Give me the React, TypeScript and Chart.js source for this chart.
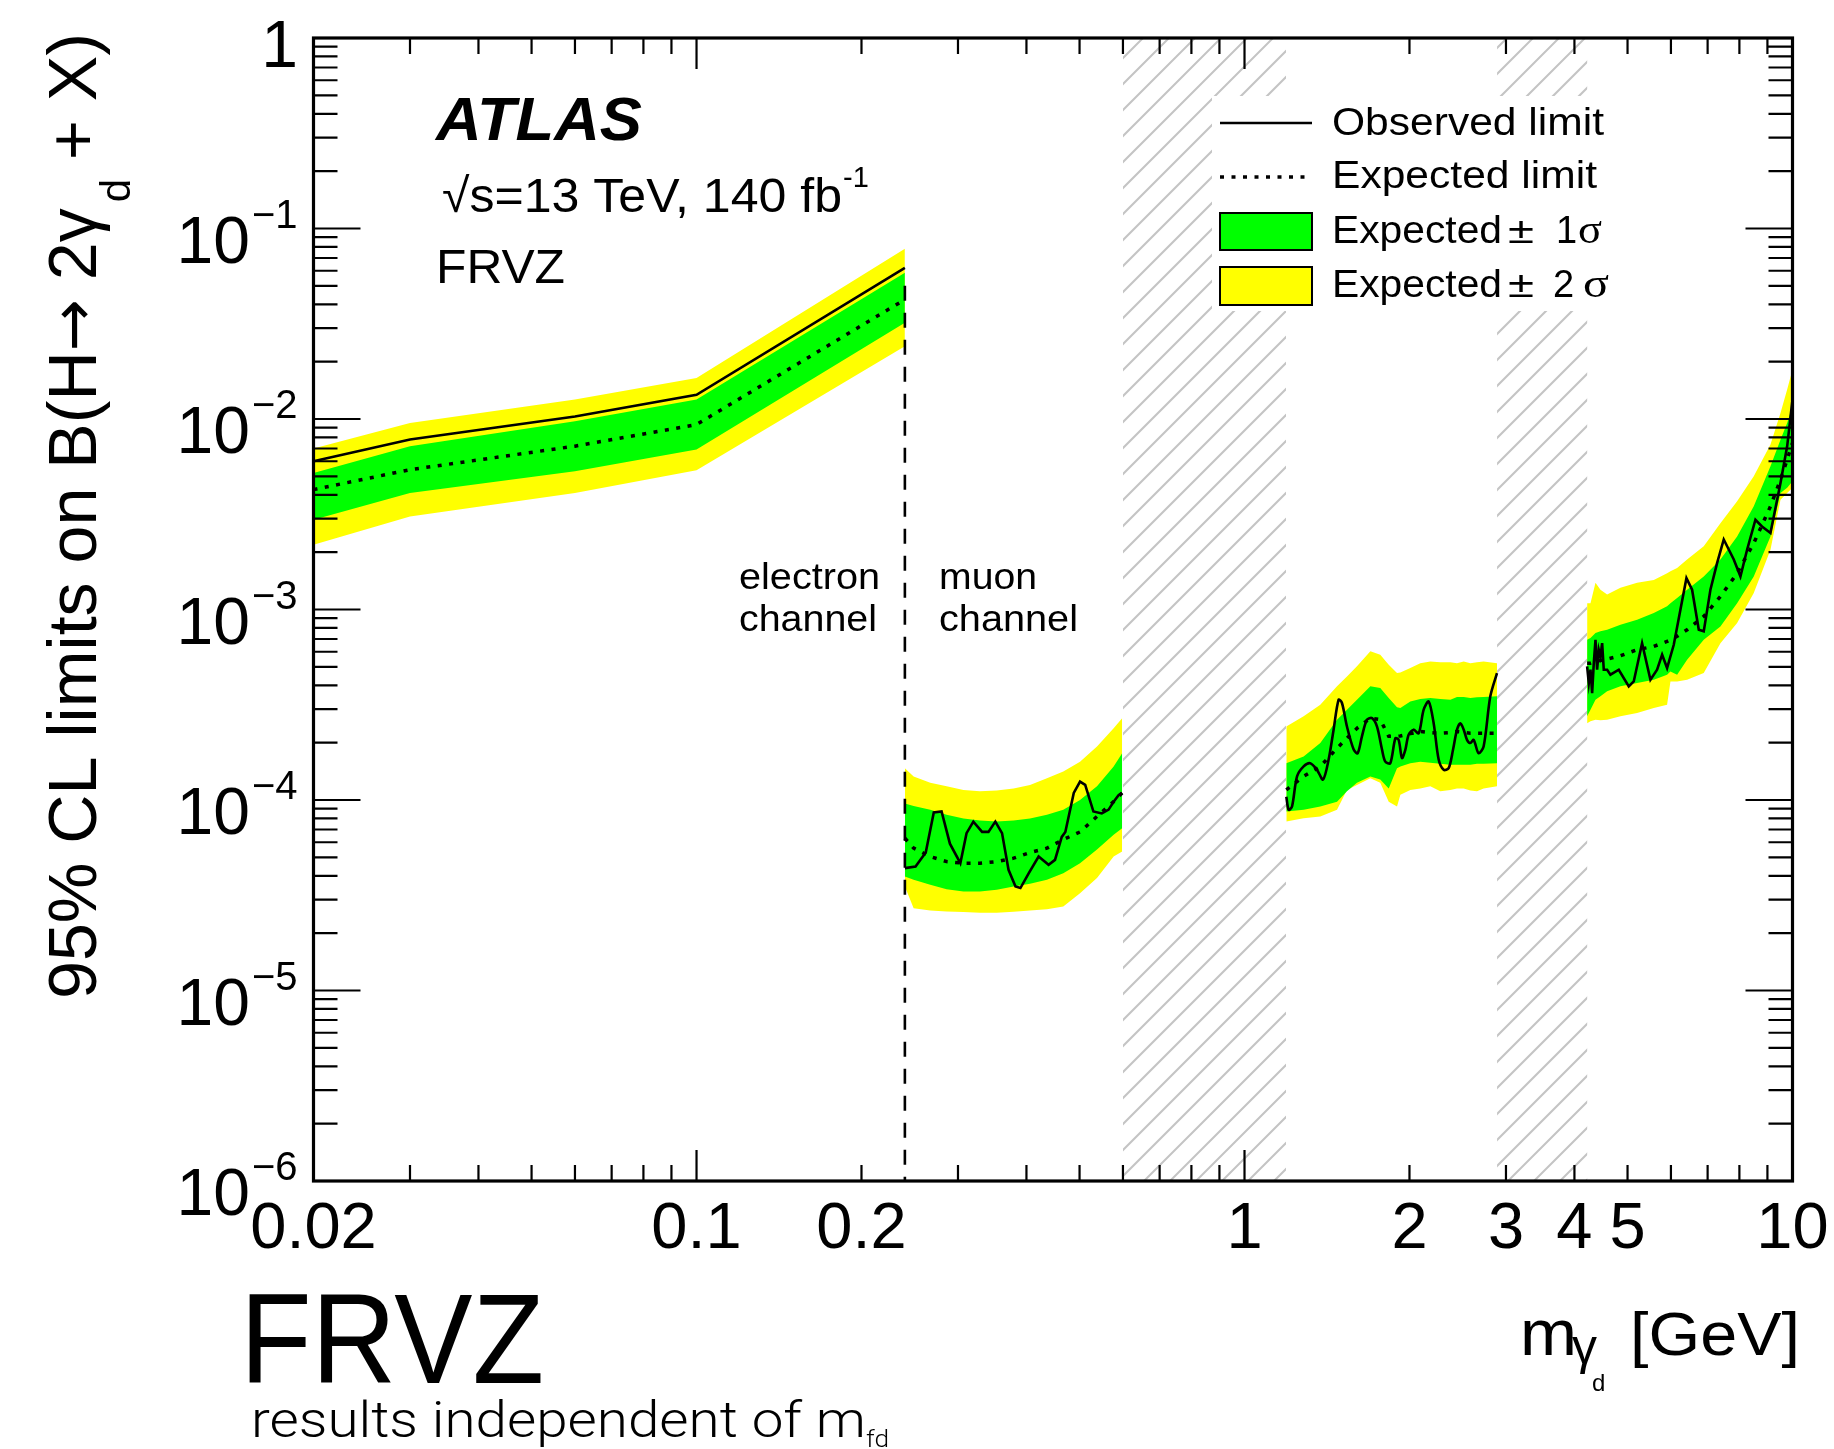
import React, { useEffect, useRef } from 'react';
import { Chart, registerables } from 'chart.js';

Chart.register(...registerables);

const W = 1834;
const H = 1449;

// ---------------- data (mass in GeV, limit on branching ratio) ----------------
const electronMass = [0.02, 0.03, 0.06, 0.1, 0.24];
const electronObs = [6.0e-3, 7.8e-3, 1.03e-2, 1.34e-2, 6.22e-2];
const electronExp = [4.26e-3, 5.42e-3, 7.2e-3, 9.35e-3, 4.24e-2];
const electronUp1 = [5.21e-3, 7.19e-3, 9.73e-3, 1.264e-2, 5.85e-2];
const electronDn1 = [2.96e-3, 4.09e-3, 5.31e-3, 6.91e-3, 3.2e-2];
const electronUp2 = [7.0e-3, 9.54e-3, 1.264e-2, 1.643e-2, 7.82e-2];
const electronDn2 = [2.19e-3, 3.08e-3, 4.09e-3, 5.38e-3, 2.41e-2];

const muonMass = [0.24, 0.249, 0.267, 0.286, 0.307, 0.329, 0.353, 0.379, 0.406, 0.436, 0.467, 0.501, 0.538, 0.577, 0.598];
const muonUp2 = [1.47e-4, 1.33e-4, 1.23e-4, 1.18e-4, 1.13e-4, 1.11e-4, 1.12e-4, 1.15e-4, 1.2e-4, 1.3e-4, 1.41e-4, 1.59e-4, 1.91e-4, 2.38e-4, 2.69e-4];
const muonUp1 = [9.6e-5, 9.3e-5, 8.9e-5, 8.36e-5, 8.0e-5, 7.81e-5, 7.7e-5, 7.81e-5, 8.0e-5, 8.36e-5, 8.9e-5, 1.0e-4, 1.18e-4, 1.5e-4, 1.76e-4];
const muonExp = [6.3e-5, 5.59e-5, 5.05e-5, 4.75e-5, 4.66e-5, 4.66e-5, 4.75e-5, 4.95e-5, 5.3e-5, 5.59e-5, 6.2e-5, 6.8e-5, 8.2e-5, 9.8e-5, 1.09e-4];
const muonDn1 = [3.97e-5, 3.81e-5, 3.59e-5, 3.4e-5, 3.31e-5, 3.31e-5, 3.38e-5, 3.52e-5, 3.63e-5, 3.81e-5, 4.13e-5, 4.66e-5, 5.5e-5, 6.57e-5, 7.1e-5];
const muonDn2 = [3.52e-5, 2.7e-5, 2.63e-5, 2.6e-5, 2.58e-5, 2.56e-5, 2.56e-5, 2.59e-5, 2.63e-5, 2.67e-5, 2.76e-5, 3.24e-5, 3.89e-5, 5.05e-5, 5.37e-5];
const muonObsMass = [0.24, 0.251, 0.262, 0.271, 0.28, 0.29, 0.303, 0.311, 0.32, 0.332, 0.341, 0.351, 0.361, 0.371, 0.382, 0.39, 0.404, 0.421, 0.439, 0.451, 0.464, 0.471, 0.488, 0.501, 0.512, 0.53, 0.549, 0.565, 0.577, 0.589, 0.598];
const muonObs = [4.39e-5, 4.48e-5, 5.3e-5, 8.6e-5, 8.7e-5, 5.9e-5, 4.66e-5, 6.7e-5, 7.7e-5, 6.8e-5, 6.8e-5, 7.7e-5, 6.7e-5, 4.3e-5, 3.52e-5, 3.45e-5, 4.13e-5, 5.05e-5, 4.57e-5, 4.85e-5, 6.4e-5, 6.8e-5, 1.09e-4, 1.25e-4, 1.2e-4, 8.7e-5, 8.5e-5, 8.9e-5, 9.8e-5, 1.06e-4, 1.09e-4];

const midMass = [1.192, 1.282, 1.375, 1.475, 1.538, 1.604, 1.697, 1.769, 1.833, 1.898, 1.925, 2.007, 2.093, 2.183, 2.277, 2.375, 2.442, 2.512, 2.583, 2.656, 2.731, 2.889];
const midUp2 = [2.43e-4, 2.75e-4, 3.16e-4, 3.95e-4, 4.45e-4, 5.03e-4, 6.03e-4, 5.79e-4, 5.13e-4, 4.64e-4, 4.67e-4, 4.93e-4, 5.23e-4, 5.34e-4, 5.28e-4, 5.28e-4, 5.23e-4, 5.34e-4, 5.23e-4, 5.28e-4, 5.34e-4, 5.23e-4];
const midUp1 = [1.56e-4, 1.69e-4, 1.99e-4, 2.64e-4, 2.98e-4, 3.36e-4, 3.95e-4, 3.87e-4, 3.43e-4, 3.07e-4, 3.04e-4, 3.29e-4, 3.39e-4, 3.43e-4, 3.39e-4, 3.36e-4, 3.47e-4, 3.47e-4, 3.43e-4, 3.46e-4, 3.47e-4, 3.5e-4];
const midExp = [1.13e-4, 1.33e-4, 1.5e-4, 1.87e-4, 2.11e-4, 2.38e-4, 2.69e-4, 2.64e-4, 2.16e-4, 2.16e-4, 2.17e-4, 2.23e-4, 2.29e-4, 2.26e-4, 2.24e-4, 2.26e-4, 2.29e-4, 2.27e-4, 2.24e-4, 2.24e-4, 2.24e-4, 2.24e-4];
const midDn1 = [8.7e-5, 8.88e-5, 9.25e-5, 9.8e-5, 1.11e-4, 1.23e-4, 1.33e-4, 1.28e-4, 1.15e-4, 1.47e-4, 1.5e-4, 1.56e-4, 1.59e-4, 1.57e-4, 1.55e-4, 1.53e-4, 1.53e-4, 1.53e-4, 1.53e-4, 1.55e-4, 1.55e-4, 1.56e-4];
const midDn2 = [7.7e-5, 8.03e-5, 8.2e-5, 8.88e-5, 1.13e-4, 1.2e-4, 1.3e-4, 1.23e-4, 9.8e-5, 9.25e-5, 1.065e-4, 1.13e-4, 1.15e-4, 1.18e-4, 1.11e-4, 1.13e-4, 1.15e-4, 1.15e-4, 1.12e-4, 1.11e-4, 1.15e-4, 1.18e-4];
const midObsMass = [1.192, 1.204, 1.221, 1.247, 1.282, 1.318, 1.356, 1.391, 1.424, 1.454, 1.485, 1.506, 1.538, 1.582, 1.609, 1.638, 1.673, 1.709, 1.745, 1.782, 1.807, 1.845, 1.885, 1.911, 1.938, 1.966, 1.993, 2.035, 2.079, 2.123, 2.168, 2.214, 2.261, 2.309, 2.358, 2.402, 2.442, 2.477, 2.512, 2.547, 2.583, 2.619, 2.674, 2.731, 2.809, 2.889];
const midObs = [1.04e-4, 8.88e-5, 9.25e-5, 1.33e-4, 1.5e-4, 1.56e-4, 1.44e-4, 1.28e-4, 1.63e-4, 2.34e-4, 3.36e-4, 3.23e-4, 2.43e-4, 1.84e-4, 1.76e-4, 2.16e-4, 2.64e-4, 2.69e-4, 2.43e-4, 1.84e-4, 1.59e-4, 1.56e-4, 2.11e-4, 2.07e-4, 1.66e-4, 1.84e-4, 2.2e-4, 2.34e-4, 2.24e-4, 2.98e-4, 3.29e-4, 2.53e-4, 1.63e-4, 1.44e-4, 1.47e-4, 1.84e-4, 2.34e-4, 2.53e-4, 2.34e-4, 2.07e-4, 1.99e-4, 2.07e-4, 1.76e-4, 1.91e-4, 3.5e-4, 4.64e-4];

const highMass = [4.219, 4.279, 4.37, 4.462, 4.589, 4.853, 5.205, 5.583, 5.904, 5.988, 6.158, 6.422, 6.887, 7.387, 7.924, 8.498, 9.116, 9.508, 9.778, 10.0];
const highUp2 = [1.08e-3, 1.08e-3, 1.38e-3, 1.27e-3, 1.2e-3, 1.3e-3, 1.38e-3, 1.43e-3, 1.55e-3, 1.59e-3, 1.65e-3, 1.83e-3, 2.15e-3, 2.84e-3, 3.7e-3, 5.0e-3, 7.34e-3, 1.076e-2, 1.427e-2, 1.817e-2];
const highUp1 = [6.94e-4, 7.08e-4, 7.52e-4, 7.68e-4, 7.83e-4, 8.32e-4, 8.84e-4, 9.58e-4, 1.039e-3, 1.08e-3, 1.149e-3, 1.27e-3, 1.49e-3, 1.83e-3, 2.42e-3, 3.48e-3, 5.65e-3, 7.79e-3, 9.54e-3, 1.166e-2];
const highExp = [5.23e-4, 5.23e-4, 5.34e-4, 5.4e-4, 5.49e-4, 5.72e-4, 6.15e-4, 6.4e-4, 6.8e-4, 6.94e-4, 7.23e-4, 7.83e-4, 9.2e-4, 1.17e-3, 1.55e-3, 2.23e-3, 3.48e-3, 4.8e-3, 6.12e-3, 7.49e-3];
const highDn1 = [2.75e-4, 2.98e-4, 3.36e-4, 3.5e-4, 3.72e-4, 3.95e-4, 4.11e-4, 4.28e-4, 4.55e-4, 4.73e-4, 4.55e-4, 5.45e-4, 6.94e-4, 8.15e-4, 1.08e-3, 1.49e-3, 2.42e-3, 4.09e-3, 4.35e-3, 4.71e-3];
const highDn2 = [2.53e-4, 2.59e-4, 2.64e-4, 2.62e-4, 2.64e-4, 2.75e-4, 2.86e-4, 3.04e-4, 3.16e-4, 4.19e-4, 4.19e-4, 4.28e-4, 4.64e-4, 6.66e-4, 8.49e-4, 1.22e-3, 2.06e-3, 3.77e-3, 4.09e-3, 4.35e-3];
const highObsMass = [4.219, 4.249, 4.279, 4.309, 4.339, 4.37, 4.4, 4.431, 4.462, 4.494, 4.525, 4.589, 4.653, 4.819, 5.026, 5.132, 5.315, 5.505, 5.661, 5.782, 5.904, 6.072, 6.244, 6.404, 6.558, 6.745, 6.887, 7.083, 7.284, 7.491, 7.813, 8.035, 8.263, 8.558, 8.797, 9.116, 9.508, 9.778, 10.0];
const highObs = [5.03e-4, 4.11e-4, 4.83e-4, 3.64e-4, 5.23e-4, 6.94e-4, 4.83e-4, 6.15e-4, 5.67e-4, 6.66e-4, 4.83e-4, 4.83e-4, 4.55e-4, 4.83e-4, 3.95e-4, 4.19e-4, 6.66e-4, 4.28e-4, 4.83e-4, 5.79e-4, 4.93e-4, 6.53e-4, 9.98e-4, 1.46e-3, 1.27e-3, 7.83e-4, 7.68e-4, 1.27e-3, 1.75e-3, 2.33e-3, 1.83e-3, 1.49e-3, 2.06e-3, 2.96e-3, 2.73e-3, 2.52e-3, 4.61e-3, 7.19e-3, 1.264e-2];

// vetoed (hatched) mass windows, channel boundary
const vetoLow = [0.6, 2.89];
const vetoHigh = [1.19, 4.22];
const channelBoundaryMass = 0.24;
const channelBoundaryTop = 0.05;

// axis labels
const xRange = [0.02, 10];
const yRange = [1e-6, 1];
const xTickValues = [0.02, 0.1, 0.2, 1, 2, 3, 4, 5, 10];
const xTickTexts = ['0.02', '0.1', '0.2', '1', '2', '3', '4', '5', '10'];
const yTickExponents = [0, -1, -2, -3, -4, -5, -6];

// ---------------- drawing helpers ----------------
const SANS = "'Liberation Sans', Arial, Helvetica, sans-serif";
const SERIF = "'Liberation Serif', 'Times New Roman', serif";
const LIGHT = "Roboto, Lato, 'Open Sans', sans-serif";
const SYMB = "'DejaVu Sans', sans-serif";

function xy(xs: number[], ys: number[]) {
  return xs.map((x, i) => ({ x, y: ys[i] }));
}

function textAt(ctx: CanvasRenderingContext2D, s: string, x: number, y: number, font: string, width?: number, align: CanvasTextAlign = 'left') {
  ctx.save();
  ctx.font = font;
  ctx.textAlign = align;
  ctx.textBaseline = 'alphabetic';
  const w = ctx.measureText(s).width;
  const sx = width ? width / w : 1;
  ctx.translate(x, y);
  ctx.scale(sx, 1);
  ctx.fillStyle = '#000';
  ctx.fillText(s, 0, 0);
  ctx.restore();
}

function buildDatasets() {
  const regions = [
    { m: electronMass, up2: electronUp2, up1: electronUp1, exp: electronExp, dn1: electronDn1, dn2: electronDn2, om: electronMass, obs: electronObs, t: 0 },
    { m: muonMass, up2: muonUp2, up1: muonUp1, exp: muonExp, dn1: muonDn1, dn2: muonDn2, om: muonObsMass, obs: muonObs, t: 0 },
    { m: midMass, up2: midUp2, up1: midUp1, exp: midExp, dn1: midDn1, dn2: midDn2, om: midObsMass, obs: midObs, t: 0.3 },
    { m: highMass, up2: highUp2, up1: highUp1, exp: highExp, dn1: highDn1, dn2: highDn2, om: highObsMass, obs: highObs, t: 0 },
  ];
  const ds: any[] = [];
  for (const r of regions) {
    const bound = { pointRadius: 0, borderWidth: 0, borderColor: 'rgba(0,0,0,0)', fill: false, order: 10 };
    ds.push({ ...bound, label: 'minus2', data: xy(r.m, r.dn2) });
    ds.push({ ...bound, label: 'plus2', data: xy(r.m, r.up2), fill: '-1', backgroundColor: '#ffff00', order: 4 });
    ds.push({ ...bound, label: 'minus1', data: xy(r.m, r.dn1) });
    ds.push({ ...bound, label: 'plus1', data: xy(r.m, r.up1), fill: '-1', backgroundColor: '#00ff00', order: 3 });
    ds.push({ label: 'Expected limit', data: xy(r.m, r.exp), pointRadius: 0, borderWidth: 3.5, borderColor: '#000', borderDash: [4, 7.5], fill: false, order: 2 });
    ds.push({ label: 'Observed limit', data: xy(r.om, r.obs), pointRadius: 0, borderWidth: 2.6, borderColor: '#000', fill: false, order: 1, tension: r.t });
  }
  return ds;
}

const decorPlugin = {
  id: 'atlasDecor',
  beforeDatasetsDraw(chart: any) {
    const { ctx, chartArea: a, scales } = chart;
    const xs = scales.x;
    const h = a.bottom - a.top;
    for (let i = 0; i < vetoLow.length; i++) {
      const x0 = xs.getPixelForValue(vetoLow[i]);
      const x1 = xs.getPixelForValue(vetoHigh[i]);
      ctx.save();
      ctx.beginPath();
      ctx.rect(x0, a.top, x1 - x0, h);
      ctx.clip();
      ctx.strokeStyle = '#c4c4c4';
      ctx.lineWidth = 2;
      ctx.beginPath();
      for (let c = Math.floor((x0 - h) / 26) * 26; c < x1 + 26; c += 26) {
        ctx.moveTo(c, a.bottom);
        ctx.lineTo(c + h, a.top);
      }
      ctx.stroke();
      ctx.restore();
    }
    // legend background
    ctx.save();
    ctx.fillStyle = '#fff';
    ctx.fillRect(1212, 96, 430, 215);
    ctx.restore();
  },
  afterDatasetsDraw(chart: any) {
    const { ctx, chartArea: a, scales } = chart;
    const xs = scales.x;
    const ys = scales.y;
    ctx.save();
    // channel boundary
    const xb = xs.getPixelForValue(channelBoundaryMass);
    ctx.strokeStyle = '#000';
    ctx.lineWidth = 2.6;
    ctx.setLineDash([15, 12]);
    ctx.beginPath();
    ctx.moveTo(xb, ys.getPixelForValue(channelBoundaryTop));
    ctx.lineTo(xb, a.bottom);
    ctx.stroke();
    ctx.setLineDash([]);

    // ticks
    ctx.lineWidth = 2.2;
    ctx.beginPath();
    for (let k = -6; k <= 0; k++) {
      for (let j = 1; j <= 9; j++) {
        const v = j * Math.pow(10, k);
        if (v > yRange[1] * 1.0001) continue;
        const py = ys.getPixelForValue(v);
        const len = j === 1 ? 47 : 24;
        ctx.moveTo(a.left, py); ctx.lineTo(a.left + len, py);
        ctx.moveTo(a.right, py); ctx.lineTo(a.right - len, py);
      }
    }
    for (let k = -2; k <= 1; k++) {
      for (let j = 1; j <= 9; j++) {
        const v = j * Math.pow(10, k);
        if (v < xRange[0] * 0.9999 || v > xRange[1] * 1.0001) continue;
        const px = xs.getPixelForValue(v);
        const len = j === 1 ? 31 : 16;
        ctx.moveTo(px, a.bottom); ctx.lineTo(px, a.bottom - len);
        ctx.moveTo(px, a.top); ctx.lineTo(px, a.top + len);
      }
    }
    ctx.stroke();
    // frame
    ctx.lineWidth = 3.2;
    ctx.strokeRect(a.left, a.top, a.right - a.left, a.bottom - a.top);
    ctx.restore();
  },
  afterDraw(chart: any) {
    const { ctx, scales } = chart;
    const xs = scales.x;
    const ys = scales.y;
    ctx.save();
    ctx.fillStyle = '#000';
    // x tick labels
    xTickValues.forEach((v, i) => {
      textAt(ctx, xTickTexts[i], xs.getPixelForValue(v), 1248, `65px ${SANS}`, undefined, 'center');
    });
    // y tick labels
    yTickExponents.forEach((k) => {
      const py = ys.getPixelForValue(Math.pow(10, k));
      if (k === 0) {
        textAt(ctx, '1', 298, py + 29, `66px ${SANS}`, undefined, 'right');
      } else {
        textAt(ctx, '10', 250, py + 34, `66px ${SANS}`, undefined, 'right');
        textAt(ctx, '\u2212' + String(-k), 252, py - 1, `40px ${SANS}`);
      }
    });

    // y title (rotated)
    ctx.save();
    ctx.translate(96, 999);
    ctx.rotate(-Math.PI / 2);
    const main = `68px ${SANS}`;
    const arrowFont = `62px ${SYMB}`;
    const sub = `42px ${SANS}`;
    const pa = '95% CL limits on B(H';
    const pArrow = '\u2192';
    const pb = ' 2\u03b3';
    const pd = 'd';
    const pc = ' + X)';
    ctx.font = main;
    const wa = ctx.measureText(pa).width;
    const wb = ctx.measureText(pb).width;
    const wc = ctx.measureText(pc).width;
    ctx.font = arrowFont;
    const wArr = ctx.measureText(pArrow).width;
    ctx.font = sub;
    const wd = ctx.measureText(pd).width;
    const total = wa + wArr + wb + 6 + wd + wc;
    ctx.scale(966 / total, 1);
    ctx.textBaseline = 'alphabetic';
    let cx = 0;
    ctx.font = main; ctx.fillText(pa, cx, 0); cx += wa;
    ctx.font = arrowFont; ctx.fillText(pArrow, cx, -2); cx += wArr;
    ctx.font = main; ctx.fillText(pb, cx, 0); cx += wb + 6;
    ctx.font = sub; ctx.fillText(pd, cx, 34); cx += wd;
    ctx.font = main; ctx.fillText(pc, cx, 0);
    ctx.restore();

    // x title
    textAt(ctx, 'm', 1520, 1355, `64px ${SANS}`, 57);
    textAt(ctx, '\u03b3', 1572, 1364, `50px ${SANS}`);
    textAt(ctx, 'd', 1592, 1391, `24px ${SANS}`);
    textAt(ctx, '[GeV]', 1630, 1355, `62px ${SANS}`, 170);

    // ATLAS label block
    textAt(ctx, 'ATLAS', 436, 140, `italic bold 62px ${SANS}`, 206);
    textAt(ctx, '\u221as=13 TeV, 140 fb', 442, 212, `48px ${SANS}`, 400);
    textAt(ctx, '-1', 843, 187, `29px ${SANS}`);
    textAt(ctx, 'FRVZ', 436, 283, `48px ${SANS}`, 129);

    // channel labels
    textAt(ctx, 'electron', 739, 589, `36px ${SANS}`, 141);
    textAt(ctx, 'channel', 739, 631, `36px ${SANS}`, 138);
    textAt(ctx, 'muon', 939, 589, `36px ${SANS}`, 98);
    textAt(ctx, 'channel', 939, 631, `36px ${SANS}`, 139);

    // legend
    ctx.strokeStyle = '#000';
    ctx.lineWidth = 2.6;
    ctx.beginPath();
    ctx.moveTo(1220, 123); ctx.lineTo(1312, 123);
    ctx.stroke();
    ctx.lineWidth = 3.5;
    ctx.setLineDash([4, 7.5]);
    ctx.beginPath();
    ctx.moveTo(1220, 177); ctx.lineTo(1312, 177);
    ctx.stroke();
    ctx.setLineDash([]);
    ctx.lineWidth = 2;
    ctx.fillStyle = '#00ff00';
    ctx.fillRect(1220, 213, 92, 37);
    ctx.strokeRect(1220, 213, 92, 37);
    ctx.fillStyle = '#ffff00';
    ctx.fillRect(1220, 267, 92, 38);
    ctx.strokeRect(1220, 267, 92, 38);
    ctx.fillStyle = '#000';
    textAt(ctx, 'Observed limit', 1332, 135, `38px ${SANS}`, 272);
    textAt(ctx, 'Expected limit', 1332, 188, `38px ${SANS}`, 265);
    textAt(ctx, 'Expected', 1332, 243, `38px ${SANS}`, 170);
    textAt(ctx, '\u00b1', 1508, 243, `36px ${SANS}`, 26);
    textAt(ctx, '1', 1556, 243, `38px ${SANS}`);
    textAt(ctx, '\u03c3', 1578, 243, `42px ${SERIF}`, 24);
    textAt(ctx, 'Expected', 1332, 297, `38px ${SANS}`, 170);
    textAt(ctx, '\u00b1', 1508, 297, `36px ${SANS}`, 26);
    textAt(ctx, '2', 1553, 297, `38px ${SANS}`);
    textAt(ctx, '\u03c3', 1583, 297, `42px ${SERIF}`, 26);

    // bottom captions
    textAt(ctx, 'FRVZ', 240, 1383, `128px ${SANS}`, 304);
    textAt(ctx, 'results independent of m', 251, 1437, `300 50px ${LIGHT}`, 615);
    textAt(ctx, 'fd', 866, 1447, `300 23px ${LIGHT}`, 23);
    ctx.restore();
  },
};

export default function App() {
  const ref = useRef<HTMLCanvasElement | null>(null);
  useEffect(() => {
    if (!ref.current) return;
    const chart = new Chart(ref.current, {
      type: 'line',
      data: { datasets: buildDatasets() },
      options: {
        responsive: false,
        animation: false,
        events: [],
        layout: { padding: { left: 313.5, top: 38, right: W - 1792.5, bottom: H - 1181 } },
        scales: {
          x: { type: 'logarithmic', min: xRange[0], max: xRange[1], display: false },
          y: { type: 'logarithmic', min: yRange[0], max: yRange[1], display: false },
        },
        plugins: { legend: { display: false }, tooltip: { enabled: false } },
        elements: { point: { radius: 0 } },
      } as any,
      plugins: [decorPlugin as any],
    });
    return () => chart.destroy();
  }, []);
  return (
    <div style={{ position: 'fixed', left: 0, top: 0, width: W, height: H, background: '#fff' }}>
      <canvas ref={ref} width={W} height={H} style={{ display: 'block', width: W, height: H }} />
    </div>
  );
}
